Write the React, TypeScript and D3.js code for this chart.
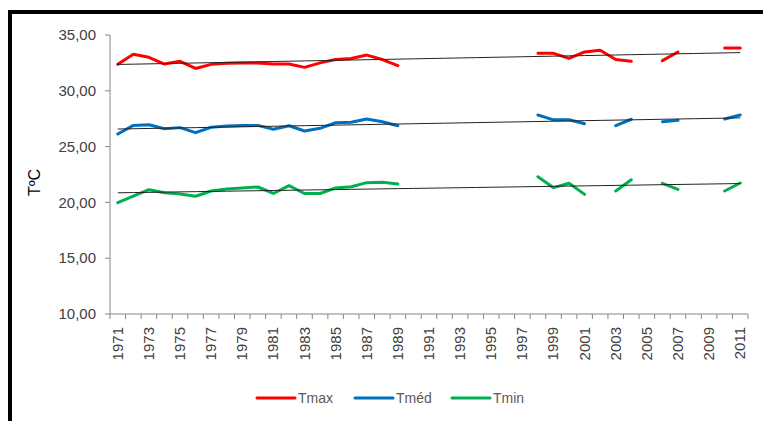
import React from 'react';
import * as d3 from 'd3';

// categories
const years = [
  '1971', '1972', '1973', '1974', '1975', '1976', '1977', '1978', '1979', '1980',
  '1981', '1982', '1983', '1984', '1985', '1986', '1987', '1988', '1989', '1990',
  '1991', '1992', '1993', '1994', '1995', '1996', '1997', '1998', '1999', '2000',
  '2001', '2002', '2003', '2004', '2005', '2006', '2007', '2008', '2009', '2010',
  '2011',
];

// series values (null = no data)
const tmax = [
  32.37, 33.27, 33.0, 32.4, 32.64, 32.0, 32.37, 32.46, 32.5, 32.5,
  32.4, 32.4, 32.1, 32.5, 32.8, 32.9, 33.2, 32.8, 32.25, null,
  null, null, null, null, null, null, null, 33.36, 33.36, 32.9,
  33.48, 33.63, 32.8, 32.64, null, 32.7, 33.48, null, null, 33.84,
  33.84,
];
const tmed = [
  26.13, 26.9, 26.96, 26.6, 26.7, 26.25, 26.73, 26.85, 26.9, 26.9,
  26.55, 26.87, 26.4, 26.64, 27.14, 27.18, 27.47, 27.23, 26.87, null,
  null, null, null, null, null, null, null, 27.83, 27.4, 27.4,
  27.05, null, 26.87, 27.45, null, 27.23, 27.35, null, null, 27.47,
  27.83,
];
const tmin = [
  19.97, 20.57, 21.14, 20.87, 20.75, 20.55, 21.02, 21.2, 21.29, 21.38,
  20.8, 21.5, 20.8, 20.8, 21.3, 21.4, 21.77, 21.8, 21.65, null,
  null, null, null, null, null, null, null, 22.3, 21.32, 21.71,
  20.72, null, 21.02, 22.03, null, 21.71, 21.17, null, null, 21.02,
  21.74,
];

const seriesNames = ['Tmax', 'Tméd', 'Tmin'];
const seriesColors = ['#ff0000', '#0070c0', '#00b050'];
const yTicks = [10, 15, 20, 25, 30, 35];

const W = 763;
const H = 421;
const left = 110;
const right = 748;
const top = 35;
const bottom = 314;
const font = "'Liberation Sans', Arial, sans-serif";

// least squares fit on category index, like an Excel linear trendline
function trend(values: (number | null)[]) {
  const pts = values
    .map((v, i) => [i, v] as [number, number | null])
    .filter((p) => p[1] != null) as [number, number][];
  const mx = d3.mean(pts, (p) => p[0])!;
  const my = d3.mean(pts, (p) => p[1])!;
  const num = d3.sum(pts, (p) => (p[0] - mx) * (p[1] - my));
  const den = d3.sum(pts, (p) => (p[0] - mx) ** 2);
  const b = num / den;
  const a = my - b * mx;
  return values.map((_, i) => a + b * i);
}

export default function App() {
  const x = d3.scaleBand().domain(years).range([left, right]).padding(0);
  const y = d3.scaleLinear().domain([10, 35]).range([bottom, top]);
  const bw = x.bandwidth();
  const cx = (i: number) => x(years[i])! + bw / 2;

  const series = [tmax, tmed, tmin];

  const line = d3
    .line<number | null>()
    .defined((d) => d != null)
    .x((_, i) => cx(i))
    .y((d) => y(d as number));

  const trendLine = d3
    .line<number>()
    .x((_, i) => cx(i))
    .y((d) => y(d));

  // legend layout
  const legendX = [257, 355, 452];
  const legendY = 398;

  return (
    <svg
      width={W}
      height={H}
      style={{ position: 'absolute', left: 0, top: 0, background: '#fff' }}
    >
      {/* outer frame, cut off at right and bottom */}
      <rect x={10} y={12} width={900} height={600} fill="none" stroke="#000" strokeWidth={4} />

      {/* y axis */}
      <line x1={left} x2={left} y1={top} y2={bottom} stroke="#868686" />
      {yTicks.map((t) => (
        <g key={t}>
          <line x1={left - 5} x2={left} y1={y(t)} y2={y(t)} stroke="#868686" />
          <text
            x={96}
            y={y(t)}
            dy="0.35em"
            textAnchor="end"
            fontFamily={font}
            fontSize={15}
            fill="#404040"
          >
            {d3.format('.2f')(t).replace('.', ',')}
          </text>
        </g>
      ))}
      <text
        transform={`translate(40,${(top + bottom) / 2 + 8}) rotate(-90)`}
        textAnchor="middle"
        fontFamily={font}
        fontSize={16}
        fill="#000"
      >
        TºC
      </text>

      {/* x axis */}
      <line x1={left} x2={right} y1={bottom} y2={bottom} stroke="#868686" />
      {years.map((yr, i) => (
        <line
          key={'t' + yr}
          x1={x(yr)!}
          x2={x(yr)!}
          y1={bottom}
          y2={bottom + 5}
          stroke="#868686"
        />
      ))}
      <line x1={right} x2={right} y1={bottom} y2={bottom + 5} stroke="#868686" />
      {years.map((yr, i) =>
        i % 2 === 0 ? (
          <text
            key={'l' + yr}
            transform={`translate(${cx(i) + 5},${bottom + 13}) rotate(-90)`}
            textAnchor="end"
            fontFamily={font}
            fontSize={15}
            fill="#404040"
          >
            {yr}
          </text>
        ) : null
      )}

      {/* data lines */}
      {series.map((s, k) => (
        <path
          key={'s' + k}
          d={line(s)!}
          fill="none"
          stroke={seriesColors[k]}
          strokeWidth={3}
          strokeLinecap="round"
          strokeLinejoin="round"
        />
      ))}

      {/* trendlines */}
      {series.map((s, k) => (
        <path
          key={'tr' + k}
          d={trendLine(trend(s))!}
          fill="none"
          stroke="#222"
          strokeWidth={1}
        />
      ))}

      {/* legend */}
      {seriesNames.map((name, k) => (
        <g key={name}>
          <line
            x1={legendX[k]}
            x2={legendX[k] + 38}
            y1={legendY}
            y2={legendY}
            stroke={seriesColors[k]}
            strokeWidth={3}
            strokeLinecap="round"
          />
          <text
            x={legendX[k] + 41}
            y={legendY}
            dy="0.35em"
            fontFamily={font}
            fontSize={14}
            fill="#595959"
          >
            {name}
          </text>
        </g>
      ))}
    </svg>
  );
}
